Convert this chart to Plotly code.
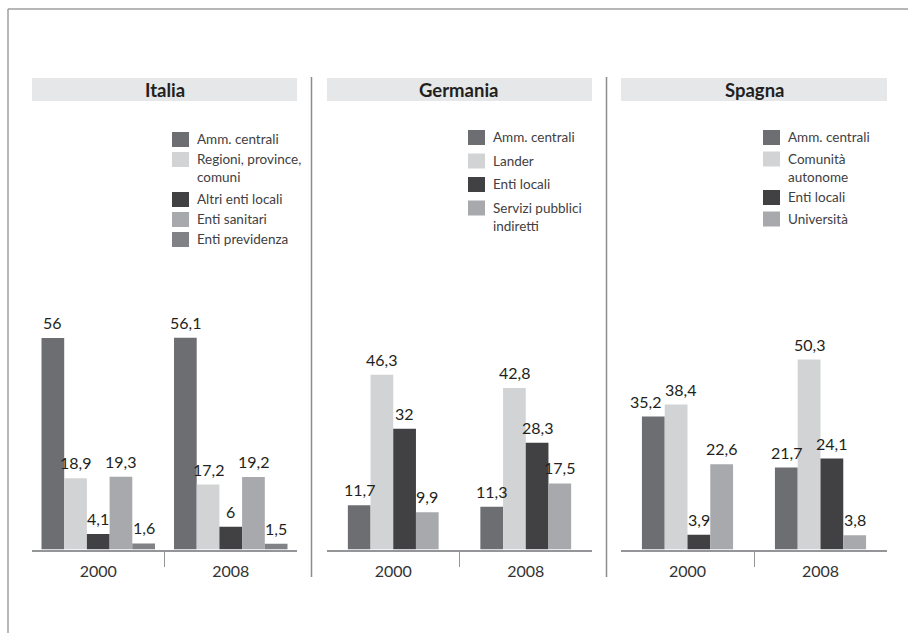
import plotly.graph_objects as go

# ---- data -------------------------------------------------------------
years = ["2000", "2008"]

italia_series = ["Amm. centrali", "Regioni, province,<br>comuni", "Altri enti locali",
                 "Enti sanitari", "Enti previdenza"]
italia_amm = [56, 56.1]
italia_regioni = [18.9, 17.2]
italia_altri = [4.1, 6]
italia_sanitari = [19.3, 19.2]
italia_previdenza = [1.6, 1.5]

germania_series = ["Amm. centrali", "Lander", "Enti locali", "Servizi pubblici<br>indiretti"]
germania_amm = [11.7, 11.3]
germania_lander = [46.3, 42.8]
germania_locali = [32, 28.3]
germania_servizi = [9.9, 17.5]

spagna_series = ["Amm. centrali", "Comunità<br>autonome", "Enti locali", "Università"]
spagna_amm = [35.2, 21.7]
spagna_comunita = [38.4, 50.3]
spagna_locali = [3.9, 24.1]
spagna_universita = [22.6, 3.8]

# ---- styling ----------------------------------------------------------
W, H = 908, 633
C_AMM = "#6d6e71"
C_LIGHT = "#d1d3d4"
C_DARK = "#414042"
C_MED = "#a7a9ac"
C_PREV = "#808285"
AXIS_C = "#939598"
TXT = "#231f20"
FONT = "Lato, 'Liberation Sans', sans-serif"

BAR_W = 0.1713          # bar width in category units
Y_MAX = 60
BASE_PX = 549.5         # baseline of the plots, px from top
PX_PER_UNIT = 3.775
CLOSE = 5               # neighbouring labels closer than this (in units) get nudged apart

def px_x(p):
    return p / W

def px_y(p):
    return 1 - p / H

panels = [
    dict(name="Italia", x0=32, x1=297,
         series=italia_series,
         values=[italia_amm, italia_regioni, italia_altri, italia_sanitari, italia_previdenza],
         colors=[C_AMM, C_LIGHT, C_DARK, C_MED, C_PREV],
         leg_x=172, leg_top=132, leg_step=20, leg_extra=20),
    dict(name="Germania", x0=327, x1=592,
         series=germania_series,
         values=[germania_amm, germania_lander, germania_locali, germania_servizi],
         colors=[C_AMM, C_LIGHT, C_DARK, C_MED],
         leg_x=468, leg_top=130, leg_step=23.5, leg_extra=18),
    dict(name="Spagna", x0=621, x1=887,
         series=spagna_series,
         values=[spagna_amm, spagna_comunita, spagna_locali, spagna_universita],
         colors=[C_AMM, C_LIGHT, C_DARK, C_MED],
         leg_x=763, leg_top=130, leg_step=21.5, leg_extra=17),
]

fig = go.Figure()
shapes = []
annotations = []
layout_axes = {}

y_top_px = BASE_PX - Y_MAX * PX_PER_UNIT

for k, p in enumerate(panels):
    sfx = "" if k == 0 else str(k + 1)
    xa, ya = "x" + sfx, "y" + sfx
    n = len(p["series"])
    start = -n * BAR_W / 2
    vals_all = p["values"]
    for i, (name, vals, col) in enumerate(zip(p["series"], vals_all, p["colors"])):
        off = start + i * BAR_W
        fig.add_trace(go.Bar(
            x=[0, 1], y=vals, name=name.replace("<br>", " "),
            offset=off, width=BAR_W, marker=dict(color=col, line=dict(width=0)),
            xaxis=xa, yaxis=ya, showlegend=False, hoverinfo="skip",
        ))
        for j, v in enumerate(vals):
            shift = 0
            if i + 1 < n and abs(vals_all[i + 1][j] - v) < CLOSE:
                shift -= 8
            if i > 0 and abs(vals_all[i - 1][j] - v) < CLOSE:
                shift += 4
            annotations.append(dict(
                x=j + off + BAR_W / 2, y=v, xref=xa, yref=ya,
                text=f"{v:g}".replace(".", ","), showarrow=False,
                xanchor="center", yanchor="bottom", yshift=4, xshift=shift,
                font=dict(family=FONT, size=16, color=TXT),
            ))

    layout_axes["xaxis" + sfx] = dict(
        domain=[px_x(p["x0"]), px_x(p["x1"])], range=[-0.5, 1.5],
        anchor=ya, tickmode="array", tickvals=[0, 1], ticktext=years,
        ticks="", showgrid=False, zeroline=False,
        showline=True, linecolor=AXIS_C, linewidth=2,
        tickfont=dict(family=FONT, size=16, color="#333333"),
        ticklabelstandoff=6,
        minor=dict(tickmode="array", tickvals=[0.5], ticks="outside",
                   ticklen=15, tickwidth=1, tickcolor=AXIS_C, showgrid=False),
        fixedrange=True,
    )
    layout_axes["yaxis" + sfx] = dict(
        domain=[px_y(BASE_PX), px_y(y_top_px)], range=[0, Y_MAX],
        anchor=xa, visible=False, showgrid=False, fixedrange=True,
    )

    # title band
    shapes.append(dict(type="rect", xref="paper", yref="paper",
                       x0=px_x(p["x0"]), x1=px_x(p["x1"]),
                       y0=px_y(101), y1=px_y(78),
                       fillcolor="#e6e7e8", line=dict(width=0), layer="below"))
    annotations.append(dict(
        x=px_x((p["x0"] + p["x1"]) / 2), y=px_y(89.5), xref="paper", yref="paper",
        text=f"<b>{p['name']}</b>", showarrow=False, xanchor="center", yanchor="middle",
        font=dict(family=FONT, size=18.5, color=TXT),
    ))

    # legend block
    top = p["leg_top"]
    for name, col in zip(p["series"], p["colors"]):
        shapes.append(dict(type="rect", xref="paper", yref="paper",
                           x0=px_x(p["leg_x"]), x1=px_x(p["leg_x"] + 17),
                           y0=px_y(top + 15), y1=px_y(top),
                           fillcolor=col, line=dict(width=0)))
        annotations.append(dict(
            x=px_x(p["leg_x"] + 23), y=px_y(top - 3), xref="paper", yref="paper",
            text=name, showarrow=False, xanchor="left", yanchor="top", align="left",
            font=dict(family=FONT, size=13.5, color="#414042"),
        ))
        top += p["leg_step"] + p["leg_extra"] * name.count("<br>")

# panel separators
for sx in (311.5, 606.5):
    shapes.append(dict(type="line", xref="paper", yref="paper",
                       x0=px_x(sx), x1=px_x(sx), y0=px_y(577), y1=px_y(77),
                       line=dict(color="#8a8c8e", width=1.5)))

# outer frame (top and left edges)
shapes.append(dict(type="line", xref="paper", yref="paper",
                   x0=px_x(8), x1=1, y0=px_y(9), y1=px_y(9),
                   line=dict(color="#9d9fa2", width=1.5)))
shapes.append(dict(type="line", xref="paper", yref="paper",
                   x0=px_x(8), x1=px_x(8), y0=0, y1=px_y(9),
                   line=dict(color="#9d9fa2", width=1.5)))

fig.update_layout(
    width=W, height=H, margin=dict(l=0, r=0, t=0, b=0),
    paper_bgcolor="white", plot_bgcolor="white",
    barmode="overlay", showlegend=False,
    font=dict(family=FONT, color=TXT),
    shapes=shapes, annotations=annotations,
    **layout_axes,
)

fig.write_html("out.html", config={"displayModeBar": False})
